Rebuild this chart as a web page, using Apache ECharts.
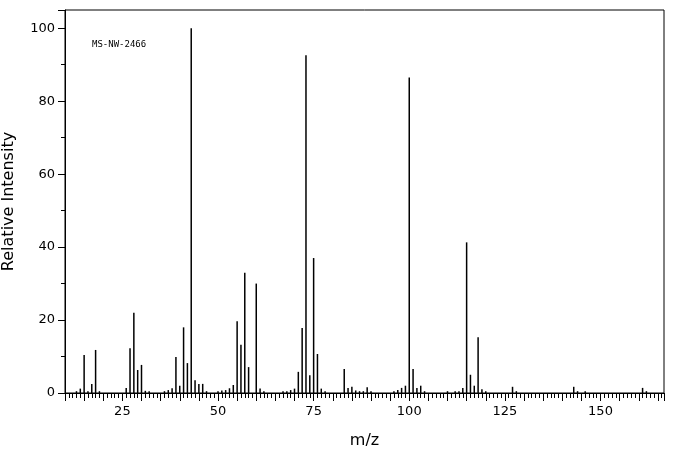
<!DOCTYPE html>
<html>
<head>
<meta charset="utf-8">
<script src="https://cdn.jsdelivr.net/npm/echarts@6/dist/echarts.min.js"></script>
<style>html,body{margin:0;padding:0;background:#fff}#chart{width:676px;height:455px}</style>
</head>
<body>
<div id="chart"></div>
<script>
// peak positions (m/z) and relative intensities
var mz = [13, 14, 15, 16, 17, 18, 19, 26, 27, 28, 29, 30, 31, 32, 36, 37, 38, 39, 40, 41, 42, 43, 44, 45, 46, 47,
  50, 51, 52, 53, 54, 55, 56, 57, 58, 60, 61, 62, 67, 68, 69, 70, 71, 72, 73, 74, 75, 76, 77, 78,
  83, 84, 85, 86, 87, 88, 89, 90, 96, 97, 98, 99, 100, 101, 102, 103, 104, 110, 112, 113, 114, 115, 116, 117, 118, 119, 120,
  127, 128, 143, 144, 146, 161, 162];
var intensity = [0.5, 1.2, 10.4, 0.5, 2.5, 11.8, 0.5, 1.4, 12.3, 22, 6.3, 7.7, 0.6, 0.5, 0.5, 0.8, 1.3, 9.9, 2, 18, 8.2, 100, 3.5, 2.5, 2.5, 0.5,
  0.5, 0.7, 0.8, 1.3, 2.2, 19.7, 13.2, 33, 7.1, 30, 1.2, 0.5, 0.5, 0.5, 0.8, 1.2, 5.8, 17.8, 92.6, 4.9, 37, 10.7, 1.2, 0.5,
  6.6, 1.4, 1.7, 0.7, 0.5, 0.5, 1.6, 0.5, 0.5, 0.8, 1.4, 2, 86.5, 6.6, 1.4, 2, 0.5, 0.5, 0.5, 0.5, 1.4, 41.3, 5, 2, 15.3, 1, 0.5,
  1.7, 0.5, 1.7, 0.5, 0.5, 1.4, 0.5];
var xTickLabels = [25, 50, 75, 100, 125, 150];
var yTickLabels = [0, 20, 40, 60, 80, 100];
var sampleId = 'MS-NW-2466';

var chart = echarts.init(document.getElementById('chart'));
var points = mz.map(function (m, i) { return [m, intensity[i]]; });
var font = 'DejaVu Sans';

chart.setOption({
  animation: false,
  grid: { left: 65, right: 12, top: 10, bottom: 62, outerBoundsMode: 'none', containLabel: false, show: true, borderColor: '#000', borderWidth: 1 },
  title: { text: sampleId, left: 87, top: 35, textStyle: { fontFamily: 'DejaVu Sans Mono', fontSize: 9, fontWeight: 'normal', color: '#000' } },
  xAxis: {
    type: 'value', min: 10, max: 166.6, interval: 5,
    name: 'm/z', nameLocation: 'middle', nameGap: 40,
    nameTextStyle: { fontFamily: font, fontSize: 16, color: '#000' },
    axisLine: { onZero: false, lineStyle: { color: '#000' } },
    axisTick: { length: 8, lineStyle: { color: '#000' } },
    minorTick: { show: true, splitNumber: 5, length: 5, lineStyle: { color: '#000' } },
    splitLine: { show: false },
    axisLabel: {
      fontFamily: font, fontSize: 13, color: '#000', margin: 12, showMaxLabel: false,
      formatter: function (v) { return xTickLabels.indexOf(v) >= 0 ? String(v) : ''; }
    }
  },
  yAxis: {
    type: 'value', min: 0, max: 105, interval: 20,
    name: 'Relative Intensity', nameLocation: 'middle', nameGap: 48,
    nameTextStyle: { fontFamily: font, fontSize: 16, color: '#000' },
    axisLine: { show: true, lineStyle: { color: '#000' } },
    axisTick: { length: 7, lineStyle: { color: '#000' } },
    minorTick: { show: true, splitNumber: 2, length: 4, lineStyle: { color: '#000' } },
    splitLine: { show: false },
    axisLabel: {
      fontFamily: font, fontSize: 13, color: '#000', margin: 10, showMaxLabel: false,
      formatter: function (v) { return yTickLabels.indexOf(v) >= 0 ? String(v) : ''; }
    }
  },
  series: [{
    type: 'bar', data: points, barWidth: 1.5,
    itemStyle: { color: '#000' }
  }]
});
</script>
</body>
</html>
